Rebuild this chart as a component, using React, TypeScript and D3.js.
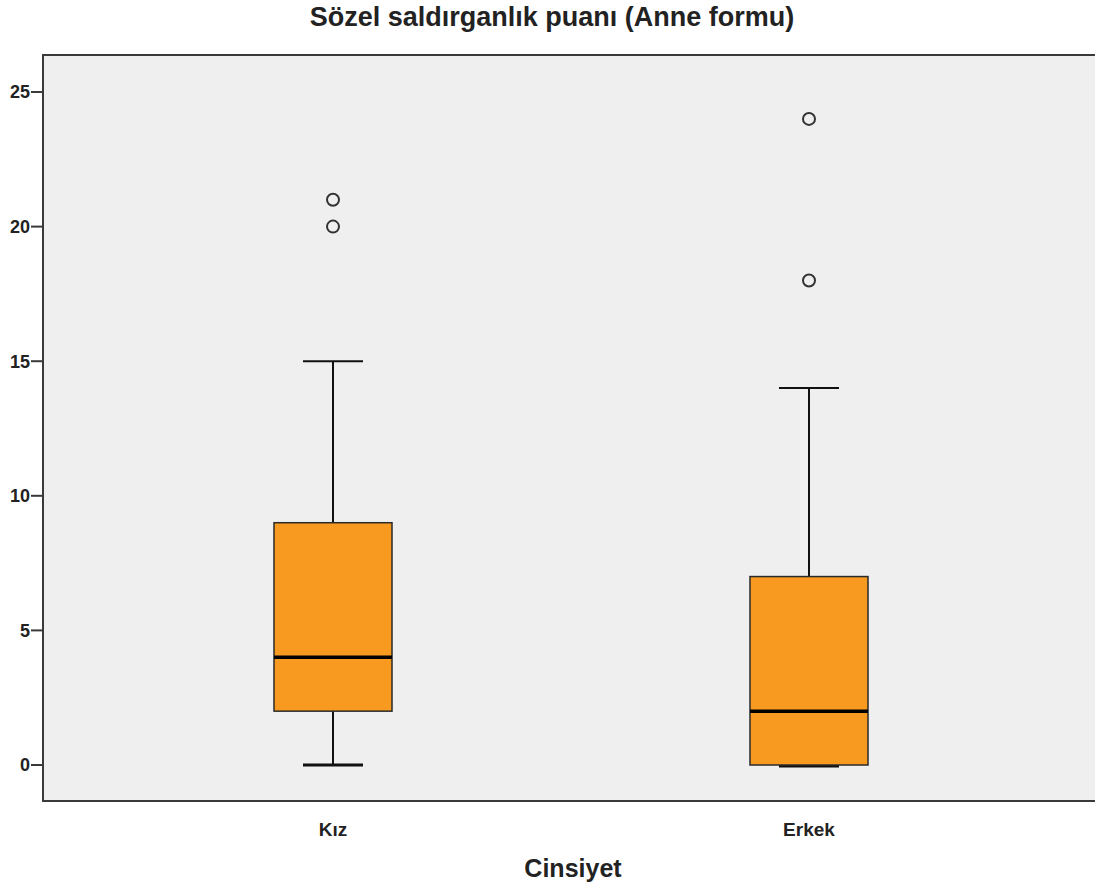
import React from "react";
import * as d3 from "d3";

const categories = ["Kız", "Erkek"];
const whiskerLow = [0, 0];
const q1 = [2, 0];
const median = [4, 2];
const q3 = [9, 7];
const whiskerHigh = [15, 14];
const outliers = [[20, 21], [18, 24]];
const yTicks = [0, 5, 10, 15, 20, 25];
const title = "Sözel saldırganlık puanı (Anne formu)";
const xTitle = "Cinsiyet";

export default function App() {
  const W = 1095, H = 886;
  const left = 43, top = 55, bottom = 801, right = 1110;
  const y = d3.scaleLinear().domain([0, 25]).range([765, 92]);
  const x = d3.scaleBand().domain(categories).range([95, 1047]).paddingInner(0).paddingOuter(0);
  const boxW = 118, capW = 60;
  const cx = (c: string) => (x(c) as number) + x.bandwidth() / 2;
  const font = "Arial, 'Liberation Sans', sans-serif";
  return (
    <svg width={W} height={H} style={{ position: "absolute", left: 0, top: 0 }}>
      <rect x={0} y={0} width={W} height={H} fill="#fff" />
      <rect x={left} y={top} width={right - left} height={bottom - top} fill="#efefef" stroke="#3a3a3a" strokeWidth={2} />
      {yTicks.map((t) => (
        <g key={t}>
          <line x1={left - 12} x2={left} y1={y(t)} y2={y(t)} stroke="#3a3a3a" strokeWidth={2} />
          <text x={left - 13} y={y(t)} dy="0.35em" textAnchor="end" fontFamily={font} fontWeight="bold" fontSize={18} fill="#222">{t}</text>
        </g>
      ))}
      {categories.map((c, i) => {
        const m = cx(c);
        const lowOff = q1[i] === whiskerLow[i] ? 1 : 0;
        return (
          <g key={c}>
            <line x1={m} x2={m} y1={y(whiskerHigh[i])} y2={y(q3[i])} stroke="#111" strokeWidth={2} />
            <line x1={m} x2={m} y1={y(q1[i])} y2={y(whiskerLow[i])} stroke="#111" strokeWidth={2} />
            <line x1={m - capW / 2} x2={m + capW / 2} y1={y(whiskerHigh[i])} y2={y(whiskerHigh[i])} stroke="#111" strokeWidth={2} />
            <line x1={m - capW / 2} x2={m + capW / 2} y1={y(whiskerLow[i]) + lowOff} y2={y(whiskerLow[i]) + lowOff} stroke="#111" strokeWidth={3} />
            <rect x={m - boxW / 2} y={y(q3[i])} width={boxW} height={y(q1[i]) - y(q3[i])} fill="#f89a1f" stroke="#2a2a2a" strokeWidth={1.5} />
            <line x1={m - boxW / 2} x2={m + boxW / 2} y1={y(median[i])} y2={y(median[i])} stroke="#000" strokeWidth={3.5} />
            {outliers[i].map((o, j) => (
              <circle key={j} cx={m} cy={y(o)} r={6} fill="none" stroke="#333" strokeWidth={2} />
            ))}
            <text x={m} y={829} dy="0.35em" textAnchor="middle" fontFamily={font} fontWeight="bold" fontSize={19} fill="#222">{c}</text>
          </g>
        );
      })}
      <text x={552} y={17} dy="0.35em" textAnchor="middle" fontFamily={font} fontWeight="bold" fontSize={27} fill="#222">{title}</text>
      <text x={573} y={868} dy="0.35em" textAnchor="middle" fontFamily={font} fontWeight="bold" fontSize={25} fill="#222">{xTitle}</text>
    </svg>
  );
}
